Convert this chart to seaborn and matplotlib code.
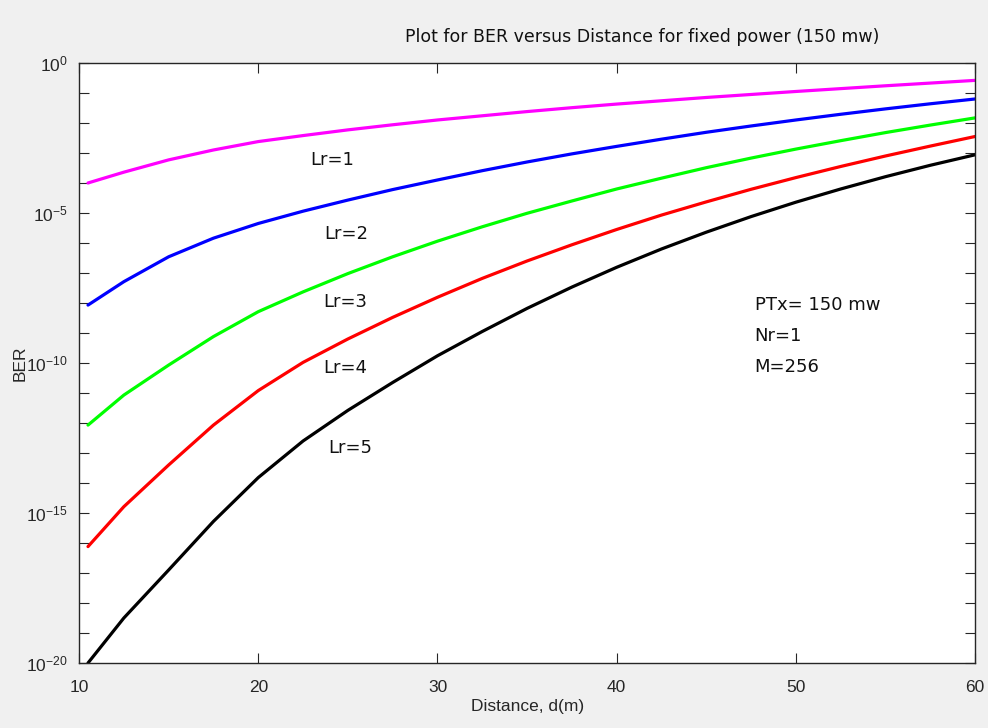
import numpy as np
import pandas as pd
import matplotlib
matplotlib.use("Agg")
import matplotlib.pyplot as plt
import seaborn as sns
from matplotlib.ticker import FixedLocator, NullFormatter, LogFormatterSciNotation

sns.set_theme(style="white")
plt.rcParams['font.family'] = ['Liberation Sans', 'DejaVu Sans']

# distance samples (m) and log10(BER)
distance = [10.5, 12.5, 15, 17.5, 20, 22.5, 25, 27.5, 30, 32.5, 35, 37.5,
            40, 42.5, 45, 47.5, 50, 52.5, 55, 57.5, 60]
ber_lr1 = [-4.0, -3.64, -3.23, -2.9, -2.62, -2.42, -2.23, -2.06, -1.9, -1.76, -1.62, -1.49,
           -1.37, -1.26, -1.15, -1.05, -0.95, -0.855, -0.76, -0.67, -0.58]
ber_lr2 = [-8.07, -7.29, -6.46, -5.84, -5.35, -4.94, -4.57, -4.22, -3.9, -3.59, -3.3, -3.03,
           -2.78, -2.54, -2.31, -2.1, -1.9, -1.71, -1.53, -1.36, -1.2]
ber_lr3 = [-12.07, -11.07, -10.07, -9.12, -8.29, -7.63, -7.02, -6.46, -5.94, -5.46, -5.01, -4.6,
           -4.2, -3.84, -3.49, -3.17, -2.87, -2.59, -2.32, -2.07, -1.83]
ber_lr4 = [-16.12, -14.79, -13.4, -12.07, -10.92, -9.98, -9.2, -8.48, -7.81, -7.18, -6.6, -6.06,
           -5.55, -5.07, -4.63, -4.21, -3.82, -3.45, -3.1, -2.77, -2.45]
ber_lr5 = [-20.0, -18.5, -16.9, -15.28, -13.82, -12.6, -11.58, -10.65, -9.76, -8.95, -8.18, -7.47,
           -6.81, -6.2, -5.64, -5.12, -4.64, -4.2, -3.79, -3.41, -3.06]
series_names = ['Lr=1', 'Lr=2', 'Lr=3', 'Lr=4', 'Lr=5']
colors = ['#ff00ff', '#0000ff', '#00ff00', '#ff0000', '#000000']

rows = []
for name, vals in zip(series_names, [ber_lr1, ber_lr2, ber_lr3, ber_lr4, ber_lr5]):
    for d, v in zip(distance, vals):
        rows.append({'distance': d, 'ber': 10.0 ** v, 'Lr': name})
df = pd.DataFrame(rows)

fig = plt.figure(figsize=(9.88, 7.28), dpi=100, facecolor='#f0f0f0')
ax = fig.add_axes([0.08, 0.0893, 0.907, 0.8242])
ax.set_facecolor('white')

sns.lineplot(data=df, x='distance', y='ber', hue='Lr', palette=colors,
             linewidth=2.3, legend=False, estimator=None, sort=False, ax=ax)

ax.set_yscale('log')
ax.set_xlim(10, 60)
ax.set_ylim(1e-20, 1)
ax.yaxis.set_major_locator(FixedLocator([1e-20, 1e-15, 1e-10, 1e-5, 1.0]))
ax.yaxis.set_major_formatter(LogFormatterSciNotation())
ax.yaxis.set_minor_locator(FixedLocator([10.0 ** k for k in range(-20, 1) if k % 5 != 0]))
ax.yaxis.set_minor_formatter(NullFormatter())
ax.set_xticks([10, 20, 30, 40, 50, 60])

ax.tick_params(which='both', direction='in', left=True, bottom=True, top=True, right=True,
               length=7, width=0.8, color='#262626', labelcolor='#262626', labelsize=12.5)
ax.tick_params(axis='x', pad=12)
ax.tick_params(axis='y', pad=8)
for s in ax.spines.values():
    s.set_color('#262626')
    s.set_linewidth(1.0)

ax.set_xlabel('Distance, d(m)', fontsize=12.5, color='#262626', labelpad=3)
ax.set_ylabel('BER', fontsize=12.5, color='#262626')
ax.yaxis.set_label_coords(-0.057, 0.5)

fig.text(642 / 988, 1 - 37 / 728, 'Plot for BER versus Distance for fixed power (150 mw)',
         ha='center', va='center', fontsize=12.5, color='#111111', family='DejaVu Sans')

label_style = dict(fontsize=13, color='#111111', family='DejaVu Sans', va='center', ha='left')
ax.text(22.9, 10 ** -3.23, 'Lr=1', **label_style)
ax.text(23.7, 10 ** -5.7, 'Lr=2', **label_style)
ax.text(23.6, 10 ** -7.97, 'Lr=3', **label_style)
ax.text(23.6, 10 ** -10.17, 'Lr=4', **label_style)
ax.text(23.9, 10 ** -12.83, 'Lr=5', **label_style)
ax.text(47.7, 10 ** -8.07, 'PTx= 150 mw', **label_style)
ax.text(47.7, 10 ** -9.1, 'Nr=1', **label_style)
ax.text(47.7, 10 ** -10.13, 'M=256', **label_style)

fig.savefig('out.png', dpi=100, facecolor=fig.get_facecolor())
